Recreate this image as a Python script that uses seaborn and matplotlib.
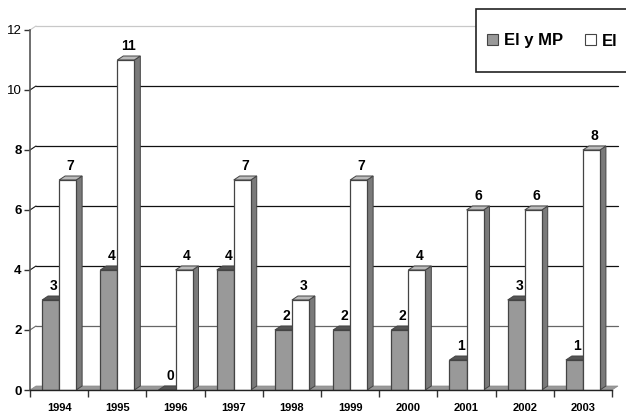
import matplotlib
matplotlib.use("Agg")
import matplotlib.pyplot as plt
from matplotlib.patches import Polygon, Rectangle
from matplotlib.lines import Line2D
import pandas as pd
import seaborn as sns

years = ["1994", "1995", "1996", "1997", "1998", "1999", "2000", "2001", "2002", "2003"]
el_y_mp = [3, 4, 0, 4, 2, 2, 2, 1, 3, 1]
el = [7, 11, 4, 7, 3, 7, 4, 6, 6, 8]
y_ticks = [0, 2, 4, 6, 8, 10, 12]

GRAY = "#999999"
DARK = "#7a7a7a"
EDGE = "#444444"
FONT = "Liberation Sans"

sns.set_theme(style="white")
plt.rcParams["font.family"] = [FONT, "DejaVu Sans"]
plt.rcParams["text.color"] = "black"
plt.rcParams["xtick.labelcolor"] = "black"
plt.rcParams["ytick.labelcolor"] = "black"

W, H = 626, 411
fig = plt.figure(figsize=(W / 100, H / 100), dpi=100, facecolor="white")
ax = fig.add_axes([30 / W, 1 - 390 / H, 582 / W, 360 / H])
ax.patch.set_alpha(0)

frame = pd.DataFrame({
    "year": years * 2,
    "count": el_y_mp + el,
    "serie": ["El y MP"] * len(years) + ["El"] * len(years),
})
sns.barplot(
    data=frame, x="year", y="count", hue="serie", order=years,
    hue_order=["El y MP", "El"], palette=[GRAY, "white"], width=0.585,
    dodge=True, saturation=1, edgecolor=EDGE, linewidth=0.9, errorbar=None,
    legend=False, ax=ax,
)
ax.set_xlim(-0.5, 9.5)
ax.set_ylim(0, 12)
ax.set_xlabel("")
ax.set_ylabel("")

# Pseudo-3D offset of the back plane, in data units
dx = 6 / 58.2
dy = 4 / 30

# Back wall: gridlines and the diagonals joining them to the value axis
for v in y_ticks[1:]:
    shade = "#c8c8c8" if v == 12 else ("#666666" if v == 2 else "#111111")
    ax.add_line(Line2D([-0.5 + dx, 9.5 + dx], [v + dy, v + dy], color=shade, lw=0.9,
                       zorder=1, clip_on=False))
    ax.add_line(Line2D([-0.5, -0.5 + dx], [v, v + dy], color=shade, lw=0.8,
                       zorder=1, clip_on=False))

# Floor of the chart
ax.add_patch(Polygon(
    [(-0.5, 0), (9.5, 0), (9.5 + dx, dy), (-0.5 + dx, dy)],
    closed=True, facecolor=GRAY, edgecolor="#888888", lw=0.5, zorder=1.5, clip_on=False,
))


def extrude(bar, top_color, z):
    x0, x1 = bar.get_x(), bar.get_x() + bar.get_width()
    h = bar.get_height()
    ax.add_patch(Polygon([(x1, 0), (x1 + dx, dy), (x1 + dx, h + dy), (x1, h)], closed=True,
                         facecolor=DARK, edgecolor=EDGE, lw=0.7, zorder=z, clip_on=False))
    ax.add_patch(Polygon([(x0, h), (x0 + dx, h + dy), (x1 + dx, h + dy), (x1, h)], closed=True,
                         facecolor=top_color, edgecolor=EDGE, lw=0.7, zorder=z, clip_on=False))
    bar.set_zorder(z + 0.5)


for container, top_color, z in zip(ax.containers, ["#555555", "#bbbbbb"], [2, 3]):
    for bar, value in zip(container.patches, container.datavalues):
        extrude(bar, top_color, z)
        ax.text(bar.get_x() + bar.get_width() / 2 + dx / 2, value + dy + 0.1, f"{int(value)}",
                ha="center", va="bottom", fontsize=10, color="black", zorder=6,
                fontweight="bold")

# Axes styling
for side in ("top", "right"):
    ax.spines[side].set_visible(False)
ax.spines["left"].set_color("#555555")
ax.spines["left"].set_linewidth(1.2)
ax.spines["bottom"].set_color("#222222")
ax.spines["bottom"].set_linewidth(1.0)
ax.spines["bottom"].set_zorder(5)

ax.set_yticks(y_ticks)
ax.set_yticklabels([str(v) for v in y_ticks], fontsize=9.5)
for label, v in zip(ax.get_yticklabels(), y_ticks):
    label.set_fontweight("normal" if v >= 10 else "bold")
ax.tick_params(axis="y", length=4, width=1, color="#333333", pad=2, left=True)

ax.set_xticks(range(len(years)))
ax.set_xticklabels(years, fontsize=8, fontweight="bold")
ax.set_xticks([i - 0.5 for i in range(len(years) + 1)], minor=True)
ax.tick_params(axis="x", which="major", length=0, pad=9, bottom=False)
ax.tick_params(axis="x", which="minor", length=5, width=1, color="#333333", bottom=True)

# Legend box runs off the right edge of the figure
fig.add_artist(Rectangle((476 / W, 1 - 72 / H), 160 / W, 63 / H, transform=fig.transFigure,
                         facecolor="white", edgecolor="#222222", lw=1.2, zorder=8))
handles = [
    Rectangle((0, 0), 1, 1, facecolor=GRAY, edgecolor=EDGE, lw=0.8),
    Rectangle((0, 0), 1, 1, facecolor="white", edgecolor=EDGE, lw=0.8),
]
leg = fig.legend(
    handles, ["El y MP", "El"], ncol=2, frameon=False, loc="center left",
    bbox_to_anchor=(487 / W, 1 - 41 / H), prop={"family": FONT, "weight": "bold", "size": 12},
    handlelength=0.68, handleheight=0.68, handletextpad=0.35, columnspacing=1.3,
    borderpad=0, borderaxespad=0, labelcolor="black",
)
leg.set_zorder(9)

fig.savefig("out.png", dpi=100, facecolor="white")
